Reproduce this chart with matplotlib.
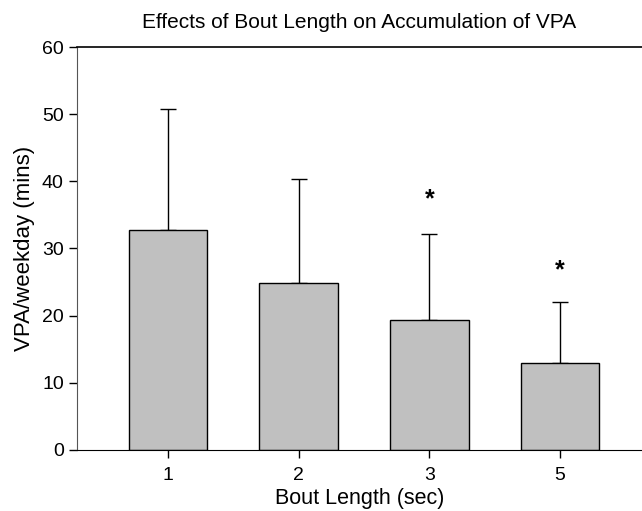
import matplotlib
matplotlib.use("Agg")
import matplotlib.pyplot as plt
import numpy as np

# data
bout_labels = ["1", "2", "3", "5"]
vpa_means = [32.7, 24.8, 19.3, 12.9]
vpa_sd = [18.0, 15.6, 12.9, 9.2]
star_heights = [None, None, 37.3, 26.8]

plt.rcParams["font.family"] = ["Liberation Sans", "DejaVu Sans"]

fig = plt.figure(figsize=(6.42, 5.11), dpi=100)
ax = fig.add_axes([0.12, 0.1194, 0.88, 0.7886])

x = np.arange(len(bout_labels))
lower = np.zeros(len(vpa_sd))
ax.bar(x, vpa_means, width=0.6, color="#c0c0c0", edgecolor="black", linewidth=1.0, zorder=2)
ax.errorbar(x, vpa_means, yerr=[lower, vpa_sd], fmt="none", ecolor="black",
            elinewidth=1.0, capsize=5.5, capthick=1.0, zorder=1)

for xi, h in zip(x, star_heights):
    if h is not None:
        ax.text(xi, h, "*", ha="center", va="center", fontsize=18, fontweight="bold")

ax.set_xlim(-0.695, 3.626)
ax.set_ylim(0, 60)
ax.set_yticks([0, 10, 20, 30, 40, 50, 60])
ax.set_xticks(x)
ax.set_xticklabels(bout_labels)
ax.tick_params(axis="both", direction="out", length=6, labelsize=14, width=1)
ax.tick_params(axis="x", pad=6)

ax.spines["right"].set_visible(False)
ax.spines["left"].set_color("#555555")
ax.spines["top"].set_linewidth(1.2)

ax.set_xlabel("Bout Length (sec)", fontsize=15.5, labelpad=3)
ax.set_ylabel("VPA/weekday (mins)", fontsize=16, labelpad=5)
ax.set_title("Effects of Bout Length on Accumulation of VPA", fontsize=15, pad=14)

fig.savefig("out.png", dpi=100)
